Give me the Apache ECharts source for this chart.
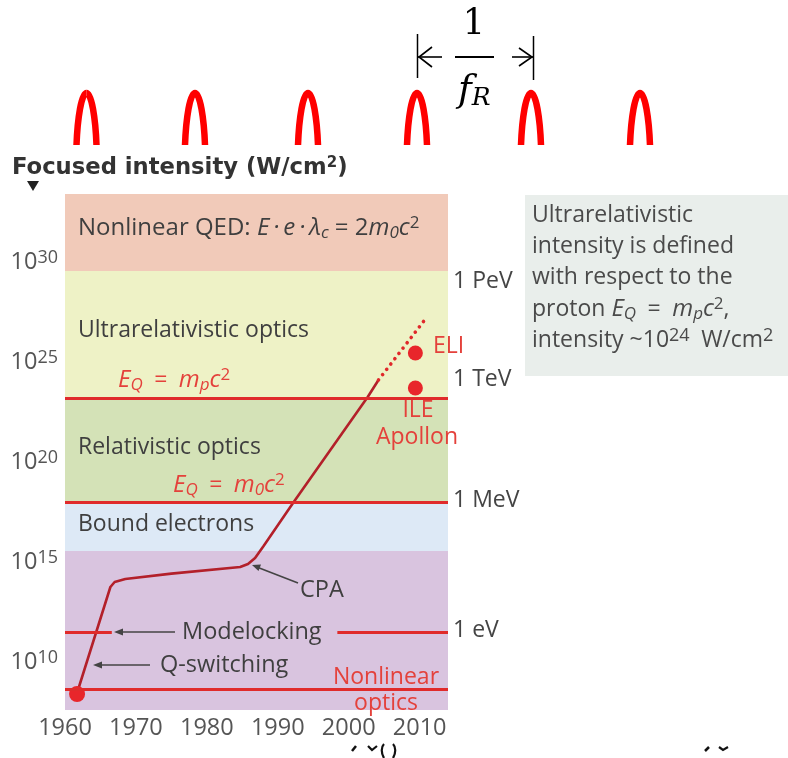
<!DOCTYPE html>
<html><head><meta charset="utf-8">
<script src="https://cdn.jsdelivr.net/npm/echarts@6/dist/echarts.min.js"></script>
<style>html,body{margin:0;padding:0;background:#fff}#c{width:788px;height:758px}</style>
</head><body><div id="c"></div>
<script>
// ---- data (intensity as log10 W/cm^2) ----
const xTicks = [1960, 1970, 1980, 1990, 2000, 2010];
const yTicks = [10, 15, 20, 25, 30];
const regionBounds = [[29.55, 33.4], [23.2, 29.55], [18.0, 23.2], [15.55, 18.0], [7.6, 15.55]];
const regionColors = ['#f1cab9', '#eef2c6', '#d4e2b7', '#dde9f6', '#d9c4df'];
const thresholdLines = [23.2, 18.0, 8.65];
const modelockLevel = 11.5;
const modelockGap = [1966.6, 1998.4];
const curveYears = [1961.7, 1966.4, 1967.0, 1968.5, 1975, 1984.7, 1985.8, 1986.8, 1988, 1992.2, 2002.7, 2004.2];
const curveLog   = [8.45, 13.75, 14.0, 14.15, 14.42, 14.75, 14.9, 15.2, 15.8, 17.98, 23.26, 24.1];
const projYears = [2004.2, 2010.6];
const projLog   = [24.1, 27.05];
const facilityYears = [2009.4, 2009.4];
const facilityLog   = [25.45, 23.7];
const originYears = [1961.7];
const originLog   = [8.4];
const pulseCenters = [86.5, 195, 308, 417, 531, 640];

const FONT = 'Open Sans';
const GREY = '#3f3f3f';
const RED = '#e4413b';
const EQ = '\u2002=\u2002';

const zip = (a, b) => a.map((v, i) => [v, b[i]]);

const chart = echarts.init(document.getElementById('c'), null, {renderer: 'canvas'});

const supRich = {
  n: {fontSize: 23, lineHeight: 27, fontFamily: FONT},
  i: {fontSize: 24, lineHeight: 27, fontFamily: FONT, fontStyle: 'italic'},
  sub: {fontSize: 17, lineHeight: 16, fontFamily: FONT, fontStyle: 'italic', verticalAlign: 'bottom'},
  sup: {fontSize: 17, lineHeight: 16, fontFamily: FONT, verticalAlign: 'top'}
};
function txt(x, y, text, opts) {
  opts = opts || {};
  return {type: 'text', x: x, y: y, z: 100, silent: true, style: Object.assign({
    text: text, fill: GREY, fontFamily: FONT, fontSize: 23,
    textVerticalAlign: 'middle', textAlign: 'left', rich: supRich
  }, opts)};
}
function seg(x1, y1, x2, y2, color, w) {
  return {type: 'line', z: 100, silent: true, shape: {x1, y1, x2, y2}, style: {stroke: color, lineWidth: w}};
}
function bez(x1, y1, c1x, c1y, c2x, c2y, x2, y2, color, w) {
  return {type: 'bezierCurve', z: 100, silent: true,
    shape: {x1, y1, cpx1: c1x, cpy1: c1y, cpx2: c2x, cpy2: c2y, x2, y2},
    style: {stroke: color, lineWidth: w, fill: 'none', lineCap: 'butt'}};
}
function arrowLeft(x1, x2, y, color) {
  return [seg(x1, y, x2 + 4, y, color, 1.6),
    {type: 'polygon', z: 100, silent: true, shape: {points: [[x2, y], [x2 + 9, y - 3.5], [x2 + 9, y + 3.5]]}, style: {fill: color}}];
}

const graphics = [];
// top pulse train
pulseCenters.forEach(cx => {
  graphics.push(bez(cx - 10, 145, cx - 9, 118, cx - 5, 93, cx, 93, '#ff0000', 6.5));
  graphics.push(bez(cx, 93, cx + 5, 93, cx + 9, 118, cx + 10, 145, '#ff0000', 6.5));
});
// bracket 1/f_R
graphics.push(seg(417.5, 34, 417.5, 78, '#000', 1.5));
graphics.push(seg(533.5, 36, 533.5, 80, '#000', 1.5));
graphics.push(seg(418, 57, 442, 57, '#000', 1.6));
graphics.push({type: 'polyline', z: 100, silent: true, shape: {points: [[432, 47], [419, 57], [432, 67]]}, style: {stroke: '#000', lineWidth: 1.6, fill: 'none'}});
graphics.push(seg(512, 57, 533, 57, '#000', 1.6));
graphics.push({type: 'polyline', z: 100, silent: true, shape: {points: [[519, 48], [532, 57], [519, 66]]}, style: {stroke: '#000', lineWidth: 1.6, fill: 'none'}});
graphics.push(seg(455, 57, 494, 57, '#000', 2.2));
graphics.push(txt(474, 25, '1', {fill: '#000', fontFamily: 'DejaVu Serif', fontSize: 35, textAlign: 'center'}));
graphics.push(txt(458, 91, '{f|f}{r|R}', {fill: '#000', rich: {
  f: {fontFamily: 'DejaVu Serif', fontStyle: 'italic', fontSize: 37, lineHeight: 40},
  r: {fontFamily: 'DejaVu Serif', fontStyle: 'italic', fontSize: 25, lineHeight: 25, verticalAlign: 'bottom'}}}));

// axis title
graphics.push(txt(12, 168, '{b|Focused intensity (W/cm}{bs|2}{b|)}', {fill: '#333', rich: {
  b: {fontFamily: 'DejaVu Sans', fontWeight: 'bold', fontSize: 22.7, lineHeight: 24},
  bs: {fontFamily: 'DejaVu Sans', fontWeight: 'bold', fontSize: 15, lineHeight: 14, verticalAlign: 'top'}}}));
graphics.push({type: 'polygon', z: 100, silent: true, shape: {points: [[27, 181], [39, 181], [33, 191]]}, style: {fill: '#222'}});

// region labels
graphics.push(txt(78, 228, '{n|Nonlinear QED: }{i|E\u2009·\u2009e\u2009·\u2009λ}{sub|c}{n| = 2}{i|m}{sub|0}{i|c}{sup|2}', {rich: Object.assign({}, supRich, {
  n: {fontSize: 24, lineHeight: 27, fontFamily: FONT}})}));
graphics.push(txt(78, 330, 'Ultrarelativistic optics'));
graphics.push(txt(78, 447, 'Relativistic optics'));
graphics.push(txt(78, 524, 'Bound electrons'));
graphics.push(txt(118, 380, '{i|E}{sub|Q}{n|' + EQ + '}{i|m}{sub|p}{i|c}{sup|2}', {fill: RED}));
graphics.push(txt(173, 485, '{i|E}{sub|Q}{n|' + EQ + '}{i|m}{sub|0}{i|c}{sup|2}', {fill: RED}));
graphics.push(txt(433, 346, 'ELI', {fill: RED}));
graphics.push(txt(418, 410, 'ILE', {fill: RED, textAlign: 'center'}));
graphics.push(txt(417, 437, 'Apollon', {fill: RED, textAlign: 'center'}));
graphics.push(txt(386, 677, 'Nonlinear', {fill: RED, textAlign: 'center'}));
graphics.push(txt(386, 703, 'optics', {fill: RED, textAlign: 'center'}));

// event annotations
graphics.push(txt(300, 590, 'CPA', {fontSize: 23.5}));
graphics.push(seg(298, 583, 258, 567.5, '#444', 1.6));
graphics.push({type: 'polygon', z: 100, silent: true, shape: {points: [[252, 565], [261, 564.5], [258.5, 571]]}, style: {fill: '#444'}});
graphics.push(txt(182, 632, 'Modelocking', {fontSize: 23.5}));
arrowLeft(175, 114, 632, '#444').forEach(g => graphics.push(g));
graphics.push(txt(160, 665, 'Q-switching', {fontSize: 23.5}));
arrowLeft(150, 93, 665, '#444').forEach(g => graphics.push(g));

// energy labels on the right
[['1 PeV', 281], ['1 TeV', 379], ['1 MeV', 500], ['1 eV', 630]].forEach(e => graphics.push(txt(453, e[1], e[0], {fill: '#444', fontSize: 23})));

// side note box
graphics.push({type: 'rect', z: 90, silent: true, shape: {x: 525, y: 195, width: 263, height: 181}, style: {fill: '#e9eeeb'}});
graphics.push(txt(532, 215, 'Ultrarelativistic', {fill: '#4a4a4a'}));
graphics.push(txt(532, 246, 'intensity is defined', {fill: '#4a4a4a'}));
graphics.push(txt(532, 277, 'with respect to the', {fill: '#4a4a4a'}));
graphics.push(txt(532, 309, '{n|proton }{i|E}{sub|Q}{n|' + EQ + '}{i|m}{sub|p}{i|c}{sup|2}{n|,}', {fill: '#4a4a4a'}));
graphics.push(txt(532, 340, '{n|intensity ~10}{sup|24}{n|\u2002W/cm}{sup|2}', {fill: '#4a4a4a', rich: Object.assign({}, supRich, {
  sup: {fontSize: 18, lineHeight: 16, fontFamily: FONT, verticalAlign: 'top'}})}));

// clipped fragments at bottom edge
graphics.push(seg(352, 751, 356, 746, '#111', 2.5));
graphics.push({type: 'polyline', z: 100, silent: true, shape: {points: [[368, 746], [372, 750], [377, 746]]}, style: {stroke: '#111', lineWidth: 2.2, fill: 'none'}});
graphics.push(bez(384, 758, 381, 753, 381, 747, 384, 744, '#111', 2.2));
graphics.push(bez(393, 744, 396, 747, 396, 753, 393, 758, '#111', 2.2));
graphics.push(seg(705, 751, 709, 747, '#111', 2.5));
graphics.push({type: 'polyline', z: 100, silent: true, shape: {points: [[719, 747], [723, 750], [728, 747]]}, style: {stroke: '#111', lineWidth: 2.2, fill: 'none'}});

const option = {
  animation: false,
  backgroundColor: '#fff',
  grid: {left: 65, right: 340, top: 194, bottom: 48, containLabel: false},
  xAxis: {
    type: 'value', min: 1960, max: 2014,
    axisLine: {show: false}, axisTick: {show: false}, splitLine: {show: false},
    axisLabel: {customValues: xTicks, margin: 6, color: '#555', fontSize: 23.5, fontFamily: FONT, formatter: v => String(v)}
  },
  yAxis: {
    type: 'value', min: 7.6, max: 33.4,
    axisLine: {show: false}, axisTick: {show: false}, splitLine: {show: false},
    axisLabel: {customValues: yTicks, margin: 7, color: '#555', formatter: v => '{b|10}{s|' + v + '}',
      rich: {b: {fontSize: 23.5, lineHeight: 26, fontFamily: FONT, color: '#555'},
             s: {fontSize: 18, lineHeight: 16, fontFamily: FONT, color: '#555', verticalAlign: 'top'}}}
  },
  series: [
    {type: 'line', name: 'regions', data: [], z: 1, silent: true,
     markArea: {silent: true, data: regionBounds.map((b, i) => [
       {yAxis: b[0], itemStyle: {color: regionColors[i], opacity: 1}}, {yAxis: b[1]}])}},
    {type: 'line', name: 'thresholds', data: [], z: 2, silent: true,
     markLine: {silent: true, symbol: 'none', label: {show: false},
       lineStyle: {color: '#e02b2b', width: 3, type: 'solid'},
       data: thresholdLines.map(v => ({yAxis: v})).concat([
         [{coord: [1960, modelockLevel]}, {coord: [modelockGap[0], modelockLevel]}],
         [{coord: [modelockGap[1], modelockLevel]}, {coord: [2014, modelockLevel]}]])}},
    {type: 'line', name: 'peak intensity', z: 3, data: zip(curveYears, curveLog), showSymbol: false,
     lineStyle: {color: '#b3202a', width: 2.6}},
    {type: 'line', name: 'projection', z: 3, data: zip(projYears, projLog), showSymbol: false,
     lineStyle: {color: '#e0282a', width: 3.6, type: [0.1, 6.6], cap: 'round'}},
    {type: 'scatter', name: 'facilities', z: 4, data: zip(facilityYears, facilityLog), symbolSize: 15,
     itemStyle: {color: '#e8262b', opacity: 1}},
    {type: 'scatter', name: 'origin', z: 4, data: zip(originYears, originLog), symbolSize: 16,
     itemStyle: {color: '#e8262b', opacity: 1}}
  ],
  graphic: graphics
};
chart.setOption(option);
</script></body></html>
